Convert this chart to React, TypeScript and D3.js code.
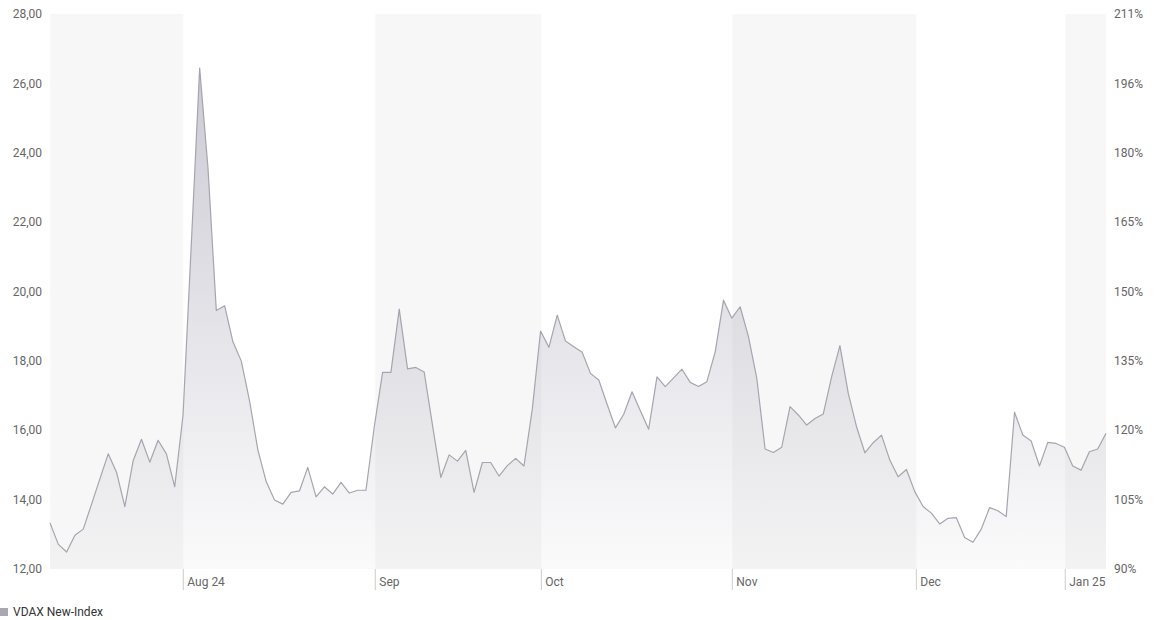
import React from 'react';
import * as d3 from 'd3';

const values: number[] = [
  13.33, 12.71, 12.49, 12.97, 13.15, 13.87, 14.6, 15.32, 14.79, 13.8,
  15.12, 15.74, 15.08, 15.71, 15.32, 14.37, 16.44, 21.4, 26.44, 23.56,
  19.45, 19.59, 18.55, 18.0, 16.85, 15.43, 14.52, 13.99, 13.87, 14.21,
  14.25, 14.93, 14.08, 14.37, 14.16, 14.5, 14.19, 14.27, 14.27, 16.1,
  17.67, 17.67, 19.49, 17.77, 17.81, 17.68, 16.15, 14.64, 15.29, 15.11,
  15.42, 14.21, 15.07, 15.07, 14.68, 14.98, 15.19, 14.97, 16.6, 18.86,
  18.39, 19.32, 18.57, 18.41, 18.25, 17.64, 17.45, 16.75, 16.07, 16.46,
  17.11, 16.56, 16.03, 17.54, 17.26, 17.51, 17.76, 17.38, 17.26, 17.4,
  18.26, 19.75, 19.23, 19.56, 18.7, 17.5, 15.46, 15.36, 15.51, 16.68,
  16.44, 16.15, 16.34, 16.47, 17.54, 18.44, 17.07, 16.1, 15.35, 15.64,
  15.86, 15.14, 14.66, 14.87, 14.23, 13.8, 13.61, 13.3, 13.46, 13.48,
  12.91, 12.77, 13.15, 13.77, 13.68, 13.51, 16.52, 15.86, 15.69, 14.97,
  15.65, 15.62, 15.51, 14.97, 14.85, 15.38, 15.46, 15.91,
];

const monthLabels: string[] = ['Aug 24', 'Sep', 'Oct', 'Nov', 'Dec', 'Jan 25'];
const monthPositions: number[] = [16.03, 39.12, 59.09, 82.06, 104.19, 122.1];

const leftTicks: number[] = [12, 14, 16, 18, 20, 22, 24, 26, 28];
const rightTickLabels: string[] = ['90%', '105%', '120%', '135%', '150%', '165%', '180%', '196%', '211%'];

const seriesName = 'VDAX New-Index';

const W = 1155;
const H = 620;
const left = 50;
const right = 1106;
const top = 14;
const bottom = 569;

export default function App() {
  const x = d3.scaleLinear().domain([0, values.length - 1]).range([left, right]);
  const y = d3.scaleLinear().domain([12, 28]).range([bottom, top]);

  const line = d3.line<number>().x((_, i) => x(i)).y((d) => y(d));
  const area = d3.area<number>().x((_, i) => x(i)).y0(bottom).y1((d) => y(d));

  const bounds = [0, ...monthPositions, values.length - 1];
  const bands: { x0: number; x1: number }[] = [];
  for (let i = 0; i < bounds.length - 1; i += 2) {
    bands.push({ x0: x(bounds[i]), x1: x(bounds[i + 1]) });
  }

  const font = 'Roboto, "Noto Sans", Arial, sans-serif';

  return (
    <svg width={W} height={H} style={{ position: 'absolute', left: 0, top: 0, fontFamily: font }}>
      <defs>
        <linearGradient id="areaGrad" gradientUnits="userSpaceOnUse" x1={0} y1={top} x2={0} y2={bottom}>
          <stop offset="0%" stopColor="rgb(170,168,184)" stopOpacity={0.66} />
          <stop offset="100%" stopColor="rgb(170,168,184)" stopOpacity={0.05} />
        </linearGradient>
      </defs>
      <rect x={0} y={0} width={W} height={H} fill="#ffffff" />
      {bands.map((b, i) => (
        <rect key={i} x={b.x0} y={top} width={b.x1 - b.x0} height={bottom - top} fill="#f7f7f7" />
      ))}
      <path d={area(values) || ''} fill="url(#areaGrad)" />
      <path d={line(values) || ''} fill="none" stroke="#a6a4ae" strokeWidth={1.2} strokeLinejoin="round" />
      {leftTicks.map((t) => (
        <text key={'l' + t} x={42} y={y(t)} dy="0.35em" textAnchor="end" fontSize={12} fill="#666666">
          {t.toFixed(2).replace('.', ',')}
        </text>
      ))}
      {leftTicks.map((t, i) => (
        <text key={'r' + t} x={1114} y={y(t)} dy="0.35em" textAnchor="start" fontSize={12} fill="#666666">
          {rightTickLabels[i]}
        </text>
      ))}
      {monthPositions.map((p, i) => (
        <g key={'m' + i}>
          <line x1={x(p)} x2={x(p)} y1={bottom} y2={590} stroke="#cccccc" strokeWidth={1} />
          <text x={x(p) + 4} y={586} fontSize={12} fill="#666666">
            {monthLabels[i]}
          </text>
        </g>
      ))}
      <rect x={0} y={608} width={8} height={8} fill="#a9a8b0" />
      <text x={13} y={612} dy="0.35em" fontSize={12} fill="#333333">
        {seriesName}
      </text>
    </svg>
  );
}
